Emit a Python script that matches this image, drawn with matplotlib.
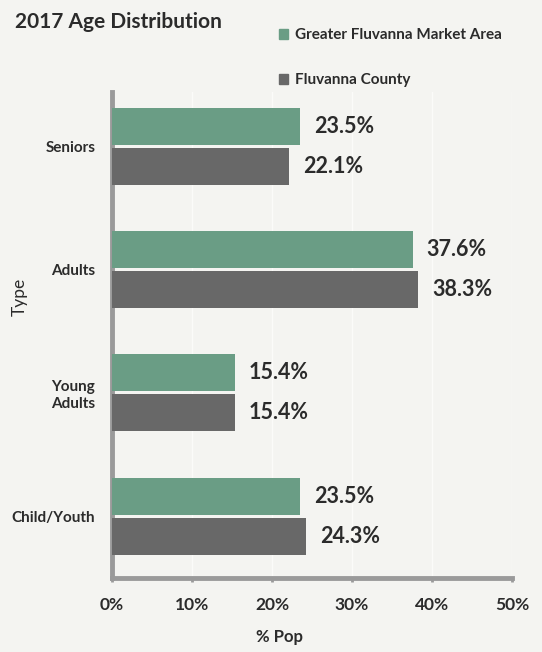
import numpy as np
import matplotlib.pyplot as plt
from matplotlib.patches import Patch

plt.rcParams['font.family'] = ['Lato', 'DejaVu Sans']

# data
categories = ['Child/Youth', 'Young\nAdults', 'Adults', 'Seniors']
market_area = [23.5, 15.4, 37.6, 23.5]
county = [24.3, 15.4, 38.3, 22.1]
series_names = ['Greater Fluvanna Market Area', 'Fluvanna County']
xticks = [0, 10, 20, 30, 40, 50]

bg = '#f4f4f1'
green = '#6a9d85'
grey = '#686868'
axis_col = '#9a9a9a'
text_col = '#2b2b2b'

fig = plt.figure(figsize=(5.42, 6.52), dpi=100, facecolor=bg)
ax = fig.add_axes([0.2066, 0.1135, 0.738, 0.7455], facecolor=bg)

y = np.arange(len(categories))
h = 0.30
b1 = ax.barh(y + h / 2 + 0.012, market_area, height=h, color=green, zorder=3)
b2 = ax.barh(y - h / 2 - 0.012, county, height=h, color=grey, zorder=3)

for bars, vals in ((b1, market_area), (b2, county)):
    for bar, v in zip(bars, vals):
        ax.annotate(f'{v:.1f}%', (bar.get_width(), bar.get_y() + bar.get_height() / 2),
                    xytext=(10, 0), textcoords='offset points', va='center', ha='left',
                    fontsize=15.5, fontweight='bold', color=text_col)

ax.set_xlim(0, 50)
ax.set_ylim(-0.5, 3.44)
ax.set_xticks(xticks)
ax.set_xticklabels([f'{t}%' for t in xticks], fontsize=12.5, fontweight='bold', color=text_col)
ax.set_yticks(y)
ax.set_yticklabels(categories, fontsize=11, fontweight='bold', color=text_col,
                   multialignment='center')
ax.tick_params(axis='x', length=3, width=2, color=axis_col, pad=11)
ax.tick_params(axis='y', length=0, pad=12)

ax.grid(axis='x', color='#fbfbf9', linewidth=1, zorder=0)
for s in ('top', 'right'):
    ax.spines[s].set_visible(False)
for s in ('left', 'bottom'):
    ax.spines[s].set_color(axis_col)
    ax.spines[s].set_linewidth(3.5)

ax.set_xlabel('% Pop', fontsize=12, fontweight='bold', color=text_col)
ax.xaxis.set_label_coords(0.42, -0.105)
ax.set_ylabel('Type', fontsize=12.5, color=text_col)
ax.yaxis.set_label_coords(-0.21, 0.578)

fig.text(0.028, 0.966, '2017 Age Distribution', fontsize=15, fontweight='bold',
         color=text_col, va='center', ha='left')

handles = [Patch(color=green), Patch(color=grey)]
leg = fig.legend(handles, series_names, loc='upper left', bbox_to_anchor=(0.49, 0.978),
                 frameon=False, handlelength=0.6, handleheight=0.6, handletextpad=0.4,
                 labelspacing=2.05, prop={'size': 11, 'weight': 'bold'})
for t in leg.get_texts():
    t.set_color(text_col)

fig.savefig('out.png', dpi=100, facecolor=bg)
